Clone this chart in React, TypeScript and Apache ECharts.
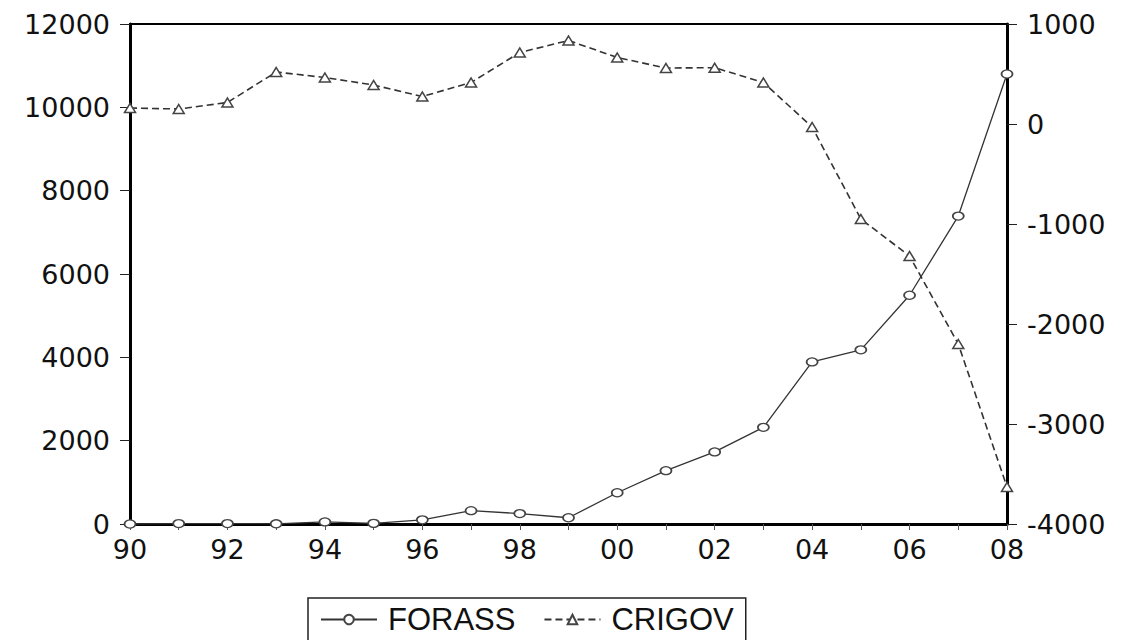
import React, { useEffect, useRef } from "react";
import * as echarts from "echarts";

const years = ["90","91","92","93","94","95","96","97","98","99","00","01","02","03","04","05","06","07","08"];
const forass = [0, 10, 10, 5, 50, 15, 100, 320, 250, 150, 750, 1280, 1730, 2320, 3890, 4180, 5490, 7390, 10800];
const crigov = [160, 150, 215, 520, 465, 390, 275, 415, 715, 835, 665, 560, 563, 415, -30, -950, -1320, -2200, -3630];
const leftTicks = { min: 0, max: 12000, interval: 2000 };
const rightTicks = { min: -4000, max: 1000, interval: 1000 };

export default function App() {
  const ref = useRef<HTMLDivElement>(null);
  useEffect(() => {
    if (!ref.current) return;
    const chart = echarts.init(ref.current, null, { renderer: "svg" });
    const axisFont = { fontFamily: "DejaVu Sans", fontSize: 27, color: "#111" };
    const plain = (v: number) => String(v);
    chart.setOption({
      animation: false,
      backgroundColor: "#fff",
      grid: {
        left: 130, right: 120, top: 24, bottom: 116,
        show: true, borderColor: "#000", borderWidth: 2, backgroundColor: "transparent",
      },
      legend: {
        left: 308, top: 598,
        padding: [6, 12, 6, 12],
        itemWidth: 56, itemHeight: 12, itemGap: 28,
        borderColor: "#222", borderWidth: 1.5,
        textStyle: { fontFamily: "Liberation Sans", fontSize: 31, color: "#111", padding: [0, 0, 0, 6] },
        data: ["FORASS", "CRIGOV"],
      },
      xAxis: {
        type: "category",
        data: years,
        boundaryGap: false,
        axisLine: { show: true, lineStyle: { color: "#000", width: 3 } },
        axisTick: { show: true, interval: 0, length: 6, lineStyle: { color: "#555", width: 1 } },
        axisLabel: { ...axisFont, interval: 1, margin: 12 },
        splitLine: { show: false },
      },
      yAxis: [
        {
          type: "value", position: "left",
          min: leftTicks.min, max: leftTicks.max, interval: leftTicks.interval,
          axisLine: { show: true, lineStyle: { color: "#000", width: 3 } },
          axisTick: { show: true, length: 10, lineStyle: { color: "#222", width: 1 } },
          axisLabel: { ...axisFont, margin: 20, formatter: plain },
          splitLine: { show: false },
        },
        {
          type: "value", position: "right",
          min: rightTicks.min, max: rightTicks.max, interval: rightTicks.interval,
          axisLine: { show: true, lineStyle: { color: "#000", width: 3 } },
          axisTick: { show: true, length: 10, lineStyle: { color: "#222", width: 1 } },
          axisLabel: { ...axisFont, margin: 20, formatter: plain },
          splitLine: { show: false },
        },
      ],
      series: [
        {
          name: "FORASS", type: "line", yAxisIndex: 0, data: forass,
          symbol: "circle", symbolSize: [11, 8], showAllSymbol: true,
          lineStyle: { color: "#333", width: 1.3 },
          itemStyle: { color: "#fff", borderColor: "#444", borderWidth: 1.5 },
          z: 3,
        },
        {
          name: "CRIGOV", type: "line", yAxisIndex: 1, data: crigov,
          symbol: "triangle", symbolSize: [11, 9], showAllSymbol: true,
          lineStyle: { color: "#333", width: 1.6, type: [7, 4] },
          itemStyle: { color: "#fff", borderColor: "#444", borderWidth: 1.5 },
          z: 3,
        },
      ],
    });
    return () => chart.dispose();
  }, []);
  return <div ref={ref} style={{ width: 1127, height: 640, position: "absolute", left: 0, top: 0 }} />;
}
